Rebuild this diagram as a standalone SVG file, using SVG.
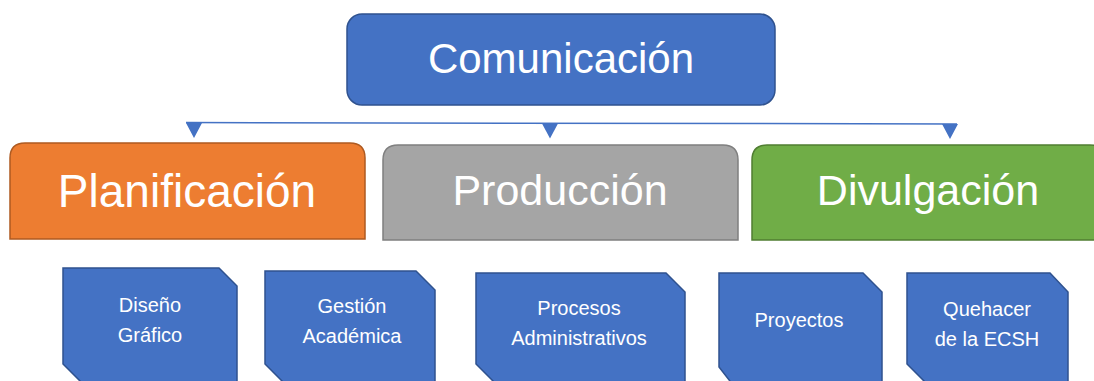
<svg xmlns="http://www.w3.org/2000/svg" width="1094" height="381" viewBox="0 0 1094 381">
<style>
.t{font-family:"Liberation Sans",Arial,sans-serif;fill:#ffffff;text-anchor:middle}
.big{font-size:43px}
.sm{font-size:20px}
.snip{fill:#4472C4;stroke:#2F528F;stroke-width:1.5}
.conn{fill:none;stroke:#4472C4;stroke-width:1.5}
</style>
<defs>
<path id="tri" d="M-8,0 L8,0 L0,15 Z" fill="#4472C4"/>
</defs>
<g id="connectors">
<line class="conn" x1="186" y1="122.5" x2="957" y2="124"/>
<use href="#tri" x="194" y="123"/>
<use href="#tri" x="550" y="123.5"/>
<use href="#tri" x="950" y="124"/>
</g>
<g id="comunicacion">
<rect x="347" y="14" width="428" height="91" rx="15" fill="#4472C4" stroke="#2F528F" stroke-width="1.5"/>
<text class="t" x="561" y="73" font-size="42">Comunicación</text>
</g>
<g id="planificacion">
<path d="M10,239 L10,158 Q10,143 25,143 L350,143 Q365,143 365,158 L365,239 Z" fill="#ED7D31" stroke="#AE5A21" stroke-width="1.5"/>
<text class="t" x="187" y="207" font-size="46">Planificación</text>
</g>
<g id="produccion">
<path d="M383,240 L383,160 Q383,145 398,145 L723,145 Q738,145 738,160 L738,240 Z" fill="#A5A5A5" stroke="#7F7F7F" stroke-width="1.5"/>
<text class="t big" x="560" y="205">Producción</text>
</g>
<g id="divulgacion">
<path d="M752,240 L752,160 Q752,145 767,145 L1090,145 Q1105,145 1105,160 L1105,240 Z" fill="#70AD47" stroke="#507E32" stroke-width="1.5"/>
<text class="t big" x="928" y="205">Divulgación</text>
</g>
<g id="diseno">
<path class="snip" d="M63,268 L219,268 L237,286 L237,383 L82,383 L63,364 Z"/>
<text class="t sm" x="150" y="312">Diseño</text>
<text class="t sm" x="150" y="342">Gráfico</text>
</g>
<g id="gestion">
<path class="snip" d="M265,271 L416,271 L435,290 L435,383 L284,383 L265,364 Z"/>
<text class="t sm" x="352" y="313">Gestión</text>
<text class="t sm" x="352" y="343">Académica</text>
</g>
<g id="procesos">
<path class="snip" d="M476,273 L666,273 L685,292 L685,383 L495,383 L476,364 Z"/>
<text class="t sm" x="579" y="315">Procesos</text>
<text class="t sm" x="579" y="345">Administrativos</text>
</g>
<g id="proyectos">
<path class="snip" d="M719,273 L863,273 L882,292 L882,385 L733,385 L719,367 Z"/>
<text class="t sm" x="799" y="327">Proyectos</text>
</g>
<g id="quehacer">
<path class="snip" d="M907,273 L1050,273 L1068,292 L1068,383 L926,383 L907,364 Z"/>
<text class="t sm" x="987" y="316">Quehacer</text>
<text class="t sm" x="987" y="346">de la ECSH</text>
</g>
</svg>
